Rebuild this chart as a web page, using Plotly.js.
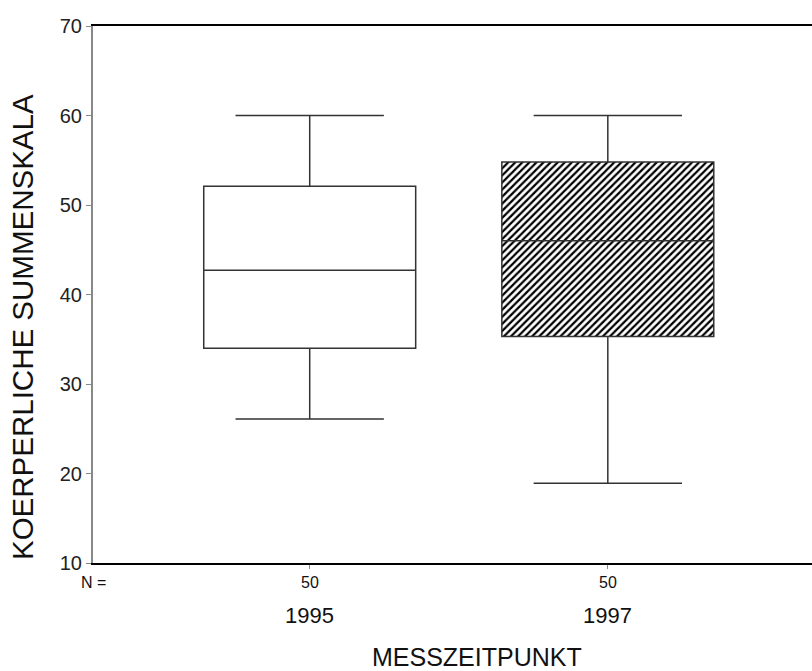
<!DOCTYPE html>
<html>
<head>
<meta charset="utf-8">
<script src="https://cdn.plot.ly/plotly-3.0.1.min.js"></script>
<style>
html,body{margin:0;padding:0;background:#fff;}
#chart{width:812px;height:671px;}
</style>
</head>
<body>
<div id="chart"></div>
<script>
// ---- data ----
var years = ["1995", "1997"];
var nValues = [50, 50];
var minVals = [26.1, 18.9];
var q1Vals = [34.0, 35.3];
var medianVals = [42.7, 46.0];
var q3Vals = [52.1, 54.8];
var maxVals = [60.0, 60.0];
var hatched = [false, true];
var yTickVals = [10, 20, 30, 40, 50, 60, 70];
var xTitle = "MESSZEITPUNKT";
var yTitle = "KOERPERLICHE SUMMENSKALA";

var FONT = "Liberation Sans, Arial, Helvetica, sans-serif";
var BOXW = 0.711;

var traces = [];
// hatch fill underneath (bar layer draws below box layer)
years.forEach(function (yr, i) {
  if (hatched[i]) {
    traces.push({
      type: "bar",
      x: [i],
      base: [q1Vals[i]],
      y: [q3Vals[i] - q1Vals[i]],
      width: BOXW,
      marker: {
        color: "#ffffff",
        line: {width: 0},
        pattern: {shape: "/", size: 5, solidity: 0.45, fgcolor: "#000000", bgcolor: "#ffffff", fillmode: "replace"}
      },
      hoverinfo: "skip",
      showlegend: false
    });
  }
});
years.forEach(function (yr, i) {
  traces.push({
    type: "box",
    x: [i],
    q1: [q1Vals[i]],
    median: [medianVals[i]],
    q3: [q3Vals[i]],
    lowerfence: [minVals[i]],
    upperfence: [maxVals[i]],
    width: BOXW,
    whiskerwidth: 0.70,
    boxpoints: false,
    fillcolor: hatched[i] ? "rgba(0,0,0,0)" : "#ffffff",
    line: {color: "#333333", width: 1.5},
    hoverinfo: "skip",
    showlegend: false
  });
});

var annotations = [];
// N = row
annotations.push({
  xref: "paper", yref: "paper", x: 0.0, y: (563 - 582) / 537,
  xanchor: "center", yanchor: "middle", showarrow: false,
  text: "N =", font: {family: FONT, size: 16, color: "#111"}
});
years.forEach(function (yr, i) {
  annotations.push({
    xref: "x", yref: "paper", x: i, y: (563 - 582) / 537,
    xanchor: "center", yanchor: "middle", showarrow: false,
    text: String(nValues[i]), font: {family: FONT, size: 16, color: "#111"}
  });
  annotations.push({
    xref: "x", yref: "paper", x: i, y: (563 - 615) / 537,
    xanchor: "center", yanchor: "middle", showarrow: false,
    text: yr, font: {family: FONT, size: 22, color: "#111"}
  });
});
annotations.push({
  xref: "paper", yref: "paper", x: (477 - 93) / 719, y: (563 - 657) / 537,
  xanchor: "center", yanchor: "middle", showarrow: false,
  text: xTitle, font: {family: FONT, size: 25, color: "#111"}
});
annotations.push({
  xref: "paper", yref: "paper", x: (22 - 93) / 719, y: (563 - 327) / 537,
  xanchor: "center", yanchor: "middle", showarrow: false, textangle: -90,
  text: yTitle, font: {family: FONT, size: 29.5, color: "#111"}
});

var layout = {
  width: 812, height: 671,
  margin: {l: 93, r: 0, t: 26, b: 108, pad: 0},
  paper_bgcolor: "#ffffff", plot_bgcolor: "#ffffff",
  showlegend: false,
  barmode: "overlay",
  boxmode: "overlay",
  font: {family: FONT, color: "#111"},
  xaxis: {
    range: [-0.727, 1.685],
    tickvals: years.map(function (y, i) { return i; }),
    showticklabels: false,
    ticks: "outside", ticklen: 4, tickwidth: 1, tickcolor: "#888",
    showline: true, linecolor: "#000", linewidth: 2, mirror: true,
    showgrid: false, zeroline: false, fixedrange: true
  },
  yaxis: {
    range: [10, 70],
    tickvals: yTickVals,
    ticks: "outside", ticklen: 5, tickwidth: 1, tickcolor: "#888",
    tickfont: {family: FONT, size: 20, color: "#222"},
    showline: true, linecolor: "#888", linewidth: 2,
    showgrid: false, zeroline: false, fixedrange: true
  },
  annotations: annotations
};

Plotly.newPlot("chart", traces, layout, {displayModeBar: false, staticPlot: true});
</script>
</body>
</html>
